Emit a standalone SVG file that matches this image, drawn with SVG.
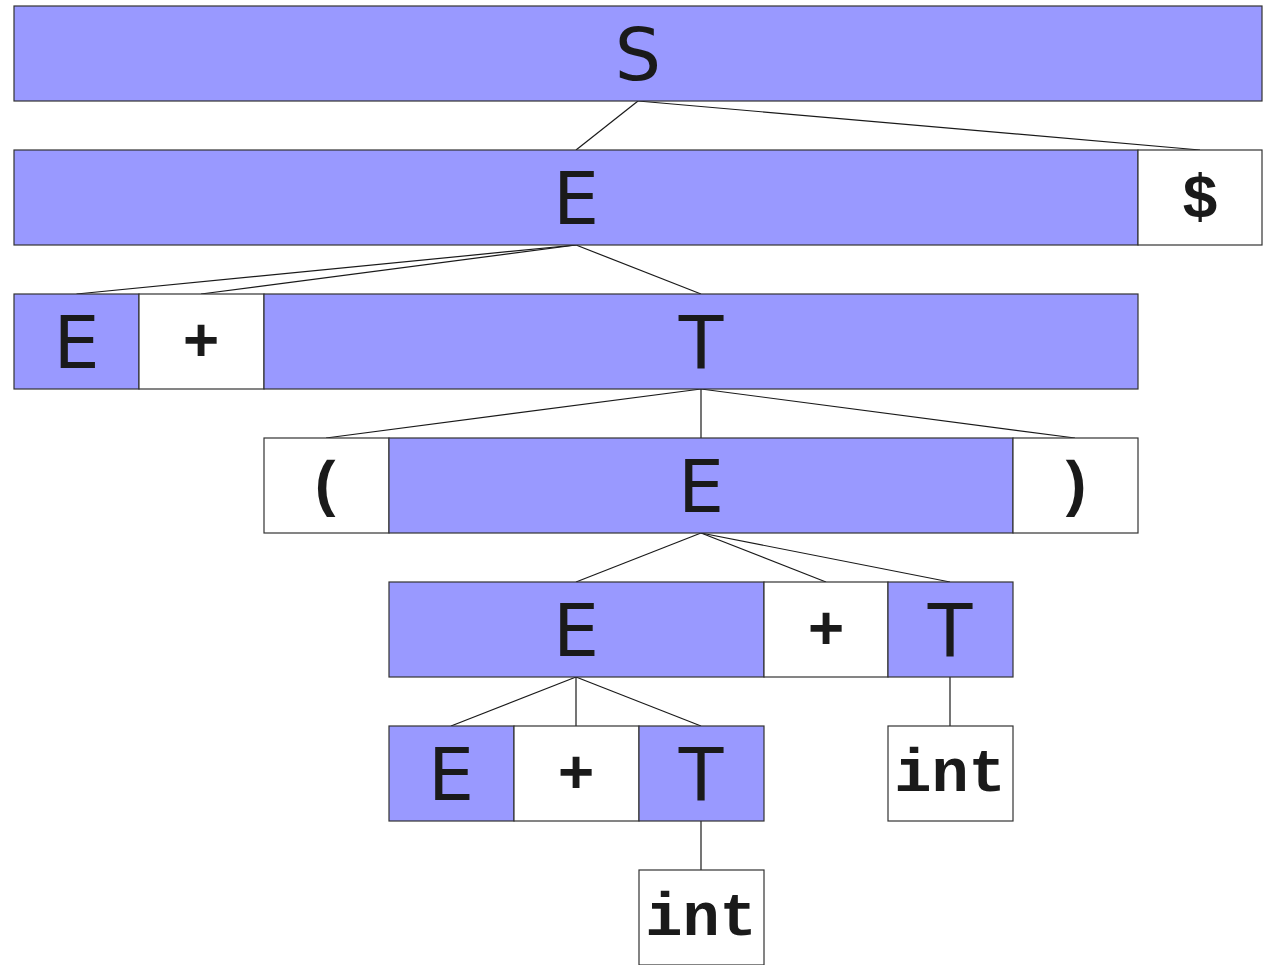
<svg xmlns="http://www.w3.org/2000/svg" width="1270" height="965" viewBox="0 0 1270 965">
<style>
.nt{fill:#9999ff;stroke:#333;stroke-width:1.2}
.t{fill:#fff;stroke:#333;stroke-width:1.2}
.nl{font-family:"DejaVu Sans",sans-serif;font-size:73px;fill:#1a1a1a;text-anchor:middle}
.tl{font-family:"Liberation Mono","Courier New",monospace;font-weight:bold;font-size:62px;fill:#1a1a1a;text-anchor:middle}
.c line{stroke:#1a1a1a;stroke-width:1.2}
</style>
<rect width="1270" height="965" fill="#fff"/>
<g class="c" id="connectors">
<line x1="638" y1="101" x2="576" y2="150"/>
<line x1="638" y1="101" x2="1200" y2="150"/>
<line x1="576" y1="245" x2="76.5" y2="294"/>
<line x1="576" y1="245" x2="201" y2="294"/>
<line x1="576" y1="245" x2="701" y2="294"/>
<line x1="701" y1="389" x2="326" y2="438"/>
<line x1="701" y1="389" x2="701" y2="438"/>
<line x1="701" y1="389" x2="1075" y2="438"/>
<line x1="701" y1="533" x2="576" y2="582"/>
<line x1="701" y1="533" x2="826" y2="582"/>
<line x1="701" y1="533" x2="950" y2="582"/>
<line x1="576" y1="677" x2="451" y2="726"/>
<line x1="576" y1="677" x2="576" y2="726"/>
<line x1="576" y1="677" x2="701" y2="726"/>
<line x1="950" y1="677" x2="950" y2="726"/>
<line x1="701" y1="821" x2="701" y2="870"/>
</g>
<g id="S"><rect class="nt" x="14" y="6" width="1248" height="95"/><text class="nl" x="638" y="80">S</text></g>
<g id="E1"><rect class="nt" x="14" y="150" width="1124" height="95"/><text class="nl" x="576" y="224">E</text></g>
<g id="dollar"><rect class="t" x="1138" y="150" width="124" height="95"/><text class="tl" x="1200" y="217">$</text></g>
<g id="E2"><rect class="nt" x="14" y="294" width="125" height="95"/><text class="nl" x="76.5" y="368">E</text></g>
<g id="plus2"><rect class="t" x="139" y="294" width="125" height="95"/><text class="tl" x="201" y="361">+</text></g>
<g id="T2"><rect class="nt" x="264" y="294" width="874" height="95"/><text class="nl" x="701" y="368">T</text></g>
<g id="lparen"><rect class="t" x="264" y="438" width="125" height="95"/><text class="tl" x="326" y="504">(</text></g>
<g id="E3"><rect class="nt" x="389" y="438" width="624" height="95"/><text class="nl" x="701" y="512">E</text></g>
<g id="rparen"><rect class="t" x="1013" y="438" width="125" height="95"/><text class="tl" x="1075" y="504">)</text></g>
<g id="E4"><rect class="nt" x="389" y="582" width="375" height="95"/><text class="nl" x="576" y="656">E</text></g>
<g id="plus4"><rect class="t" x="764" y="582" width="124" height="95"/><text class="tl" x="826" y="649">+</text></g>
<g id="T4"><rect class="nt" x="888" y="582" width="125" height="95"/><text class="nl" x="950" y="656">T</text></g>
<g id="E5"><rect class="nt" x="389" y="726" width="125" height="95"/><text class="nl" x="451" y="800">E</text></g>
<g id="plus5"><rect class="t" x="514" y="726" width="125" height="95"/><text class="tl" x="576" y="793">+</text></g>
<g id="T5"><rect class="nt" x="639" y="726" width="125" height="95"/><text class="nl" x="701" y="800">T</text></g>
<g id="int5"><rect class="t" x="888" y="726" width="125" height="95"/><text class="tl" x="950" y="791">int</text></g>
<g id="int6"><rect class="t" x="639" y="870" width="125" height="95"/><text class="tl" x="701" y="935">int</text></g>
</svg>
